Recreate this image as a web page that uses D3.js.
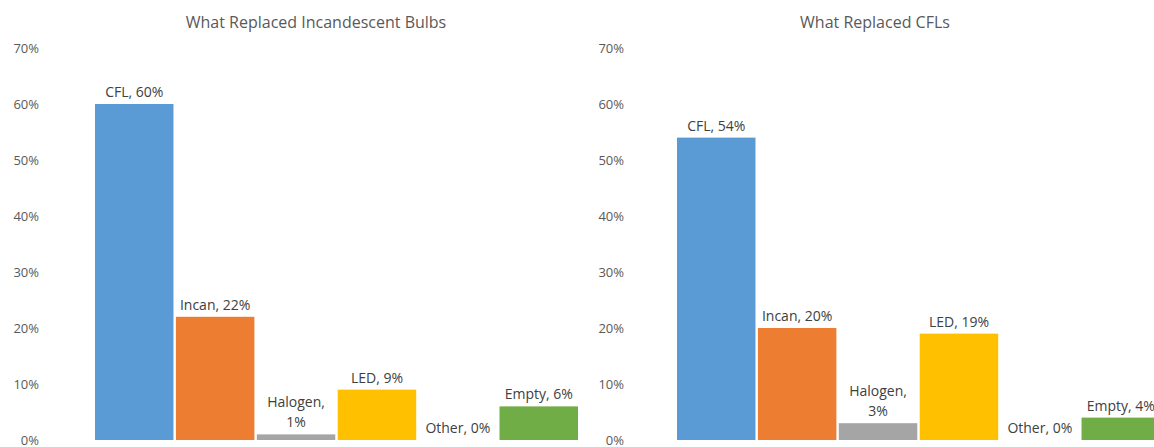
<!DOCTYPE html>
<html>
<head>
<meta charset="utf-8">
<script src="https://cdn.jsdelivr.net/npm/d3@7"></script>
<style>
  body { margin: 0; background: #fff; }
  text { font-family: "Open Sans", sans-serif; }
  .tick text { fill: #595959; font-size: 13px; }
  .title { fill: #595959; font-size: 16px; }
  .lbl { fill: #404040; font-size: 14px; }
</style>
</head>
<body>
<script>
const categories = ['CFL', 'Incan', 'Halogen', 'LED', 'Other', 'Empty'];
const incandescentValues = [60, 22, 1, 9, 0, 6];
const cflValues = [54, 20, 3, 19, 0, 4];
const yTicks = [0, 10, 20, 30, 40, 50, 60, 70];
const colors = ['#5B9BD5', '#ED7D31', '#A5A5A5', '#FFC000', '#70AD47', '#70AD47'];

const WIDTH = 1154;
const HEIGHT = 447;
const TOP = 48;
const BASE = 440;

var svg = d3.select('body').append('svg')
    .attr('width', WIDTH)
    .attr('height', HEIGHT);

var yScale = d3.scaleLinear()
    .domain([0, 70])
    .range([BASE, TOP]);

// which labels wrap to two lines
var wrapped = {'Halogen': true};

var drawPanel = function(title, values, axisX, x0, x1, titleX) {
  var xScale = d3.scaleBand()
      .domain(categories)
      .range([x0, x1])
      .paddingInner(0.03)
      .paddingOuter(0);

  var axis = svg.append('g')
      .attr('transform', 'translate(' + axisX + ',0)')
      .call(d3.axisLeft(yScale).tickValues(yTicks).tickSize(0).tickPadding(0)
          .tickFormat(function(d) { return d + '%'; }));
  axis.select('.domain').remove();
  axis.selectAll('text').attr('font-family', null).attr('font-size', null);

  svg.append('text')
      .attr('class', 'title')
      .attr('x', titleX)
      .attr('y', 28)
      .attr('text-anchor', 'middle')
      .text(title);

  var g = svg.append('g');

  g.selectAll('rect').data(categories)
      .enter()
      .append('rect')
      .attr('x', function(d) { return xScale(d); })
      .attr('y', function(d, i) { return yScale(values[i]); })
      .attr('width', xScale.bandwidth())
      .attr('height', function(d, i) { return BASE - yScale(values[i]); })
      .attr('fill', function(d, i) { return colors[i]; });

  var labels = g.selectAll('.lbl').data(categories)
      .enter()
      .append('text')
      .attr('class', 'lbl')
      .attr('text-anchor', 'middle')
      .attr('x', function(d) { return xScale(d) + xScale.bandwidth() / 2; })
      .attr('y', function(d, i) { return yScale(values[i]) - 7; });

  labels.each(function(d, i) {
    var t = d3.select(this);
    if (wrapped[d]) {
      t.append('tspan').attr('x', t.attr('x')).attr('dy', -20).text(d + ',');
      t.append('tspan').attr('x', t.attr('x')).attr('dy', 20).text(values[i] + '%');
    } else {
      t.text(d + ', ' + values[i] + '%');
    }
  });
};

drawPanel('What Replaced Incandescent Bulbs', incandescentValues, 39, 95, 578, 316);
drawPanel('What Replaced CFLs', cflValues, 624, 677, 1160, 875);
</script>
</body>
</html>
